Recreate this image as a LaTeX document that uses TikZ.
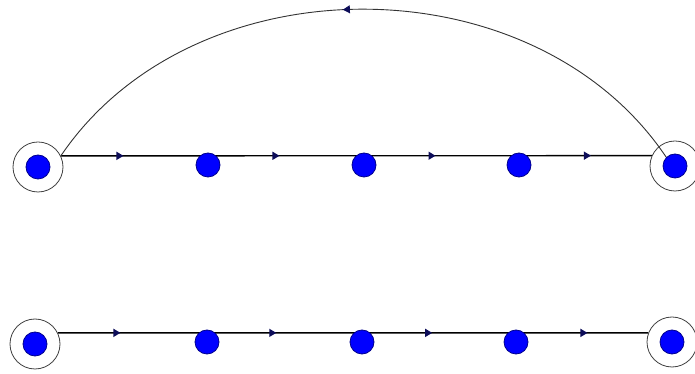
\documentclass[tikz,border=0pt]{standalone}
\usetikzlibrary{arrows.meta}
\usetikzlibrary{decorations.markings}
\usetikzlibrary{backgrounds}
\usetikzlibrary{positioning}

\definecolor{navy}{rgb}{0.05,0.05,0.35}

\tikzset{
  vertex/.style={circle, fill=blue, draw=blue!55!black, line width=0.8pt,
    minimum size=24pt, inner sep=0pt},
  ring/.style={circle, draw=black!75, line width=0.8pt, minimum size=50pt, inner sep=0pt},
  flow/.style={line width=1.4pt, postaction={decorate}, decoration={markings,
    mark=at position 0.106 with {\arrow[navy]{Triangle[width=8pt,length=7pt]}},
    mark=at position 0.370 with {\arrow[navy]{Triangle[width=8pt,length=7pt]}},
    mark=at position 0.634 with {\arrow[navy]{Triangle[width=8pt,length=7pt]}},
    mark=at position 0.897 with {\arrow[navy]{Triangle[width=8pt,length=7pt]}}}},
  back/.style={line width=0.9pt, draw=black!80, postaction={decorate}, decoration={markings,
    mark=at position 0.53 with {\arrow[navy]{Triangle[width=8pt,length=7pt]}}}}
}

\begin{document}
\begin{tikzpicture}[x=1pt, y=1pt]
      \useasboundingbox (0,0) rectangle (695,374);

      % Top row of vertices
      \node[vertex] (t1) at (38,207) {};
      \node[vertex] (t2) at (208,209) {};
      \node[vertex] (t3) at (364,209) {};
      \node[vertex] (t4) at (519,209) {};
      \node[vertex] (t5) at (675,208) {};
      \node[ring] (tr1) at (t1) {};
      \node[ring] (tr5) at (t5) {};

      % Bottom row of vertices
      \node[vertex] (b1) at (35,30) {};
      \node[vertex] (b2) at (207,32) {};
      \node[vertex] (b3) at (362,32) {};
      \node[vertex] (b4) at (516,32) {};
      \node[vertex] (b5) at (672,32) {};
      \node[ring] (br1) at (b1) {};
      \node[ring] (br5) at (b5) {};

      \begin{pgfonlayer}{background}
        % Paths through the rows
        \draw[flow] (tr1.26) -- (tr5.156);
        \draw[flow] (br1.26) -- (br5.159);

        % Return edge
        \draw[back] (t5.135) to[bend right=56] (tr1.26);
      \end{pgfonlayer}
    \end{tikzpicture}
\end{document}
